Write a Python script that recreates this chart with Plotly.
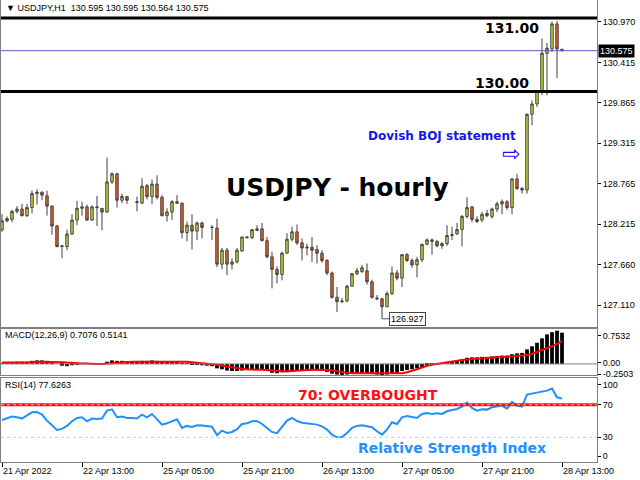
import plotly.graph_objects as go

# ---------------- data ----------------
bars = list(range(113))
opens = [128.14,128.26,128.28,128.39,128.42,128.33,128.44,128.63,128.65,128.60,
         128.46,128.19,127.91,127.91,128.08,128.27,128.43,128.45,128.27,128.45,
         128.43,128.38,128.79,128.90,128.54,128.59,None,128.52,128.50,128.74,
         128.59,128.76,128.58,128.33,128.38,128.52,128.50,128.10,128.20,128.12,
         128.23,None,128.17,128.16,127.67,127.86,127.67,127.70,127.85,128.03,
         128.03,128.13,128.15,127.99,127.77,127.60,127.53,127.82,128.01,128.11,
         127.96,127.89,127.90,127.87,127.82,127.72,127.55,127.22,127.17,127.17,
         127.37,127.54,127.57,127.58,127.43,127.21,127.20,127.09,127.27,127.55,
         127.48,127.80,127.72,127.66,127.73,127.94,128.00,127.98,127.92,127.95,
         128.06,128.08,128.14,128.32,128.45,128.28,128.27,128.36,128.32,128.42,
         128.49,128.52,128.44,128.83,128.70,128.68,129.71,129.85,130.02,130.54,
         130.60,130.94,130.595]
highs = [128.35,128.32,128.41,128.46,128.49,128.49,128.67,128.69,128.66,128.67,
         128.47,128.20,127.92,128.14,128.35,128.53,128.52,128.48,128.47,128.60,
         128.43,129.12,128.92,128.91,128.63,128.60,None,128.59,128.84,128.76,
         128.82,128.88,128.61,128.43,128.54,128.61,128.51,128.25,128.35,128.25,
         128.25,None,128.20,128.29,127.89,127.89,127.75,127.89,128.04,128.04,
         128.15,128.20,128.23,128.04,127.84,127.64,127.84,128.09,128.18,128.21,
         128.02,127.95,128.04,127.93,127.86,127.74,127.57,127.36,127.21,127.39,
         127.55,127.62,127.66,127.68,127.46,127.25,127.21,127.30,127.64,127.59,
         127.80,127.82,127.75,127.77,127.95,128.02,128.02,128.00,127.97,128.20,
         128.18,128.23,128.34,128.58,128.46,128.32,128.38,128.41,128.44,128.52,
         128.55,128.54,128.84,128.90,128.72,129.72,129.90,130.04,130.74,130.68,
         130.97,130.98,130.595]
lows = [128.11,128.24,128.24,128.36,128.32,128.31,128.36,128.48,128.54,128.33,
        128.07,127.90,127.75,127.86,128.07,128.20,128.33,128.26,128.26,128.19,
        128.13,128.37,128.76,128.44,128.50,128.49,None,128.39,128.49,128.55,
        128.49,128.55,128.32,128.25,128.27,128.49,128.02,127.98,127.87,128.00,
        128.02,None,128.00,127.63,127.60,127.52,127.60,127.68,127.84,128.02,
        128.01,128.12,127.98,127.75,127.34,127.41,127.45,127.81,127.98,127.93,
        127.72,127.79,127.70,127.68,127.69,127.52,127.20,127.02,127.14,127.15,
        127.36,127.52,127.55,127.39,127.20,127.18,126.927,127.09,127.25,127.45,
        127.36,127.70,127.62,127.49,127.70,127.93,127.80,127.90,127.88,127.92,
        128.00,128.07,127.91,128.29,128.24,128.23,128.24,128.31,128.29,128.38,
        128.35,128.41,128.35,128.68,128.63,128.63,129.56,129.81,129.97,129.97,
        130.56,130.20,130.564]
closes = [128.26,128.29,128.39,128.42,128.33,128.44,128.63,128.65,128.61,128.46,
          128.19,127.91,127.92,128.08,128.27,128.43,128.45,128.27,128.45,128.44,
          128.38,128.79,128.90,128.54,128.59,128.54,None,128.51,128.73,128.59,
          128.76,128.58,128.33,128.38,128.52,128.50,128.10,128.20,128.12,128.23,
          128.17,None,128.172,127.67,127.86,127.67,127.70,127.86,128.04,128.04,
          128.14,128.15,127.99,127.77,127.60,127.53,127.82,128.01,128.11,127.96,
          127.89,127.90,127.86,127.82,127.72,127.55,127.22,127.16,127.16,127.37,
          127.54,127.58,127.62,127.43,127.22,127.20,127.09,127.27,127.55,127.48,
          127.80,127.72,127.66,127.73,127.94,128.00,127.98,127.92,127.95,128.06,
          128.07,128.14,128.32,128.44,128.28,128.25,128.35,128.33,128.42,128.49,
          128.52,128.44,128.83,128.70,128.68,129.71,129.85,130.02,130.54,130.61,
          130.94,130.60,130.575]

macd_main = [0.02,0.03,0.04,0.05,0.05,0.05,0.07,0.08,0.08,0.07,
             0.04,0.00,-0.04,-0.05,-0.03,-0.01,0.00,0.00,0.01,0.01,
             0.00,0.05,0.08,0.07,0.07,0.06,0.06,0.06,0.07,0.07,
             0.08,0.07,0.05,0.04,0.05,0.05,0.02,0.01,-0.01,-0.02,
             -0.03,-0.04,-0.05,-0.10,-0.12,-0.15,-0.16,-0.16,-0.15,-0.14,
             -0.13,-0.12,-0.13,-0.16,-0.20,-0.21,-0.19,-0.17,-0.16,-0.16,
             -0.15,-0.15,-0.15,-0.15,-0.16,-0.18,-0.22,-0.24,-0.25,-0.24,
             -0.22,-0.21,-0.20,-0.21,-0.23,-0.24,-0.25,-0.24,-0.21,-0.20,
             -0.16,-0.14,-0.12,-0.10,-0.07,-0.04,-0.02,-0.01,0.02,0.04,
             0.06,0.08,0.11,0.14,0.15,0.15,0.16,0.16,0.17,0.18,
             0.19,0.19,0.22,0.24,0.25,0.33,0.40,0.48,0.58,0.67,
             0.72,0.7532,0.7076]
macd_signal = [0.03,0.03,0.03,0.03,0.04,0.04,0.04,0.05,0.05,0.05,
               0.05,0.05,0.04,0.03,0.02,0.01,0.01,0.01,0.00,0.00,
               0.00,0.01,0.02,0.03,0.04,0.04,0.05,0.05,0.05,0.06,
               0.06,0.06,0.06,0.06,0.06,0.06,0.05,0.05,0.04,0.03,
               0.02,0.01,0.00,-0.02,-0.04,-0.06,-0.08,-0.10,-0.11,-0.12,
               -0.13,-0.13,-0.13,-0.14,-0.15,-0.16,-0.17,-0.17,-0.16,-0.15,
               -0.14,-0.14,-0.13,-0.13,-0.13,-0.14,-0.15,-0.17,-0.19,-0.20,
               -0.21,-0.21,-0.21,-0.21,-0.21,-0.21,-0.21,-0.21,-0.21,-0.21,
               -0.21,-0.19,-0.16,-0.12,-0.08,-0.04,-0.02,0.00,0.02,0.04,
               0.06,0.08,0.09,0.10,0.11,0.12,0.13,0.13,0.14,0.15,
               0.15,0.16,0.17,0.17,0.18,0.20,0.23,0.27,0.31,0.35,
               0.40,0.46,0.5141]
rsi = [51.3,53.8,55.4,54.6,53.0,57.0,60.7,61.1,57.9,50.5,
       44.8,39.0,40.3,44.0,49.7,53.8,54.6,49.7,53.0,52.5,
       53.0,62.8,64.4,54.6,55.4,53.8,53.8,53.0,57.9,54.6,
       58.7,51.7,45.6,47.2,49.7,52.1,41.5,44.0,42.7,44.8,
       44.4,44.0,43.1,32.5,38.2,35.4,36.6,39.9,46.4,47.2,
       49.7,50.1,46.4,41.5,36.6,35.0,43.1,50.5,53.8,50.0,
       48.0,47.2,46.4,45.6,43.5,39.5,33.3,30.0,30.5,35.4,
       41.5,44.0,44.8,44.0,42.3,37.4,33.3,39.5,48.5,46.4,
       54.6,56.2,54.6,53.8,58.7,59.9,58.7,59.5,58.7,62.0,
       63.6,64.8,67.7,72.6,66.0,62.8,64.4,64.0,66.9,68.1,
       68.9,65.2,73.4,68.9,67.7,82.4,83.6,84.4,86.5,87.3,
       89.8,79.1,77.6263]

tick_idx = [0, 16, 32, 48, 64, 80, 96, 112]
tick_text = ["21 Apr 2022", "22 Apr 13:00", "25 Apr 05:00", "25 Apr 21:00",
             "26 Apr 13:00", "27 Apr 05:00", "27 Apr 21:00", "28 Apr 13:00"]
price_ticks = [130.970, 130.415, 129.865, 129.315, 128.765, 128.215, 127.660, 127.110]
# MT4 draws the extreme scale labels inset into the sub-window
macd_label_pos = [0.64, 0.025, -0.23]
macd_tick_text = ["0.7532", "0.00", "-0.2503"]
rsi_label_pos = [95, 70, 30, 7]
rsi_tick_text = ["100", "70", "30", "0"]
level_131 = 131.02
level_130 = 130.02
last_price = 130.575
low_bar = 76
low_price = 126.927
rsi_overbought = 70
rsi_low_level = 30

# ---------------- figure ----------------
BULL = "#c4dc2e"
BEAR = "#f45a1c"
EDGE = "#404040"
TICKFONT = dict(family="Liberation Sans, Arial, sans-serif", size=9, color="#000000")
FRAME = "#808080"

fig = go.Figure()

fig.add_trace(go.Candlestick(
    x=bars, open=opens, high=highs, low=lows, close=closes,
    xaxis="x", yaxis="y",
    increasing=dict(fillcolor=BULL, line=dict(color=EDGE, width=1)),
    decreasing=dict(fillcolor=BEAR, line=dict(color=EDGE, width=1)),
    whiskerwidth=0, showlegend=False, hoverinfo="skip"))

fig.add_trace(go.Bar(x=bars, y=macd_main, xaxis="x2", yaxis="y2",
                     marker=dict(color="#000000", line=dict(width=0)),
                     width=0.75, showlegend=False, hoverinfo="skip"))
fig.add_trace(go.Scatter(x=bars, y=macd_signal, xaxis="x2", yaxis="y2", mode="lines",
                         line=dict(color="#ff0000", width=2), showlegend=False,
                         hoverinfo="skip"))
fig.add_trace(go.Scatter(x=bars, y=rsi, xaxis="x3", yaxis="y3", mode="lines",
                         line=dict(color="#1e90ff", width=2), showlegend=False,
                         hoverinfo="skip"))

xr = [-0.2, 119.0]
common_x = dict(range=xr, showgrid=False, zeroline=False, showline=True, mirror=True,
                linecolor=FRAME, linewidth=1, fixedrange=True)
common_y = dict(showgrid=False, zeroline=False, showline=True, mirror=True,
                linecolor=FRAME, linewidth=1, side="right", ticks="outside",
                ticklen=3, tickcolor="#000000", tickfont=TICKFONT, fixedrange=True)

fig.update_layout(
    width=640, height=480,
    margin=dict(l=1, r=43, t=0, b=18),
    paper_bgcolor="white", plot_bgcolor="white",
    showlegend=False, hovermode=False,
    boxgap=0.3,
    xaxis=dict(**common_x, anchor="y", showticklabels=False, rangeslider=dict(visible=False)),
    yaxis=dict(**common_y, anchor="x", domain=[0.2922, 1.0], range=[126.815, 131.265],
               tickvals=price_ticks, ticktext=[f"{v:.3f}" for v in price_ticks]),
    xaxis2=dict(**common_x, anchor="y2", showticklabels=False),
    yaxis2=dict(**common_y, anchor="x2", domain=[0.1883, 0.2879], range=[-0.2506, 0.792],
                tickvals=macd_label_pos, ticktext=macd_tick_text),
    xaxis3=dict(**common_x, anchor="y3", tickvals=tick_idx, ticktext=tick_text,
                ticks="outside", ticklen=4, tickcolor="#000000", tickfont=TICKFONT,
                ticklabelposition="outside right"),
    yaxis3=dict(**common_y, anchor="x3", domain=[0.0, 0.1818], range=[-0.3, 102.8],
                tickvals=rsi_label_pos, ticktext=rsi_tick_text),
)

shapes = []
for lvl in (level_131, level_130):
    shapes.append(dict(type="line", xref="x domain", yref="y", x0=0, x1=1, y0=lvl, y1=lvl,
                       line=dict(color="#000000", width=3)))
shapes.append(dict(type="line", xref="x domain", yref="y", x0=0, x1=1, y0=last_price,
                   y1=last_price, line=dict(color="#5b5bc8", width=1)))
shapes.append(dict(type="line", xref="x2 domain", yref="y2", x0=0, x1=1, y0=0, y1=0,
                   line=dict(color="#808080", width=1)))
shapes.append(dict(type="line", xref="x3 domain", yref="y3", x0=0, x1=1,
                   y0=rsi_overbought, y1=rsi_overbought, line=dict(color="#ff1010", width=3)))
shapes.append(dict(type="line", xref="x3 domain", yref="y3", x0=0, x1=1,
                   y0=rsi_overbought, y1=rsi_overbought,
                   line=dict(color="#ffb0b0", width=1, dash="dot")))
shapes.append(dict(type="line", xref="x3 domain", yref="y3", x0=0, x1=1,
                   y0=rsi_low_level, y1=rsi_low_level,
                   line=dict(color="#c8c8c8", width=1, dash="dot")))
fig.update_layout(shapes=shapes)

BOLD = "DejaVu Sans, Verdana, sans-serif"
ann = []
ann.append(dict(xref="paper", yref="paper", x=0.005, y=0.9827, xanchor="left", yanchor="middle",
                text="▼ USDJPY,H1  130.595 130.595 130.564 130.575", showarrow=False,
                font=dict(family="Liberation Sans, Arial, sans-serif", size=9, color="#000000")))
ann.append(dict(xref="paper", yref="paper", x=0.5649, y=0.5952, xanchor="center", yanchor="middle",
                text="<b>USDJPY - hourly</b>", showarrow=False,
                font=dict(family=BOLD, size=25, color="#000000")))
ann.append(dict(xref="paper", yref="paper", x=0.8566, y=0.9394, xanchor="center", yanchor="middle",
                text="<b>131.00</b>", showarrow=False,
                font=dict(family=BOLD, size=14, color="#000000")))
ann.append(dict(xref="paper", yref="paper", x=0.8398, y=0.8203, xanchor="center", yanchor="middle",
                text="<b>130.00</b>", showarrow=False,
                font=dict(family=BOLD, size=14, color="#000000")))
ann.append(dict(xref="paper", yref="paper", x=0.7391, y=0.706, xanchor="center", yanchor="middle",
                text="<b>Dovish BOJ statement</b>", showarrow=False,
                font=dict(family=BOLD, size=12, color="#1515ee")))
ann.append(dict(xref="paper", yref="paper", x=0.8557, y=0.667, xanchor="center", yanchor="middle",
                text="⇨", showarrow=False,
                font=dict(family=BOLD, size=22, color="#1515ee")))
ann.append(dict(xref="x", yref="y", x=low_bar, y=low_price, text="126.927",
                showarrow=True, arrowhead=0, arrowwidth=1, arrowcolor="#555555",
                ax=25, ay=0, bordercolor="#444444", borderwidth=1, borderpad=1,
                bgcolor="white", font=TICKFONT))
ann.append(dict(xref="paper", yref="y", x=1.0, y=last_price, xanchor="left", yanchor="middle",
                xshift=1, text="130.575", showarrow=False, bgcolor="#000000", borderpad=1,
                font=dict(family="Liberation Sans, Arial, sans-serif", size=9, color="#ffffff")))
ann.append(dict(xref="paper", yref="paper", x=0.0034, y=0.2749, xanchor="left", yanchor="middle",
                text="MACD(12,26,9) 0.7076 0.5141", showarrow=False,
                font=dict(family="Liberation Sans, Arial, sans-serif", size=9, color="#000000")))
ann.append(dict(xref="paper", yref="paper", x=0.0034, y=0.1667, xanchor="left", yanchor="middle",
                text="RSI(14) 77.6263", showarrow=False,
                font=dict(family="Liberation Sans, Arial, sans-serif", size=9, color="#000000")))
ann.append(dict(xref="paper", yref="paper", x=0.6166, y=0.1450, xanchor="center", yanchor="middle",
                text="<b>70: OVERBOUGHT</b>", showarrow=False,
                font=dict(family=BOLD, size=14, color="#ff1010")))
ann.append(dict(xref="paper", yref="paper", x=0.7559, y=0.0303, xanchor="center", yanchor="middle",
                text="<b>Relative Strength Index</b>", showarrow=False,
                font=dict(family=BOLD, size=14, color="#1e90ff")))
fig.update_layout(annotations=ann)

fig.write_html("out.html", config={"displayModeBar": False},
               post_script="document.body.style.margin='0';document.body.style.overflow='hidden';")
